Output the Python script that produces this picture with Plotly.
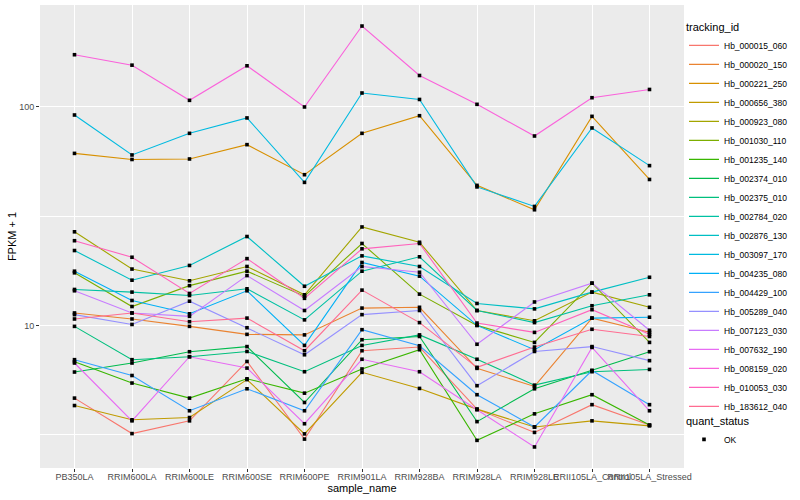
import math
import plotly.graph_objects as go

samples = ["PB350LA", "RRIM600LA", "RRIM600LE", "RRIM600SE", "RRIM600PE", "RRIM901LA",
           "RRIM928BA", "RRIM928LA", "RRIM928LE", "RRII105LA_Control", "RRII105LA_Stressed"]

tracking_ids = ["Hb_000015_060", "Hb_000020_150", "Hb_000221_250", "Hb_000656_380", "Hb_000923_080",
                "Hb_001030_110", "Hb_001235_140", "Hb_002374_010", "Hb_002375_010", "Hb_002784_020",
                "Hb_002876_130", "Hb_003097_170", "Hb_004235_080", "Hb_004429_100", "Hb_005289_040",
                "Hb_007123_030", "Hb_007632_190", "Hb_008159_020", "Hb_010053_030", "Hb_183612_040"]

# FPKM + 1 per sample, one list per gene
hb_000015_060 = [4.65, 3.2, 3.66, 6.84, 3.02, 7.66, 7.96, 4.14, 3.24, 4.34, 3.5]
hb_000020_150 = [11.4, 10.7, 9.9, 9.1, 9.05, 12.0, 12.1, 6.36, 5.26, 10.8, 9.3]
hb_000221_250 = [61.2, 57.4, 57.7, 67.1, 48.9, 75.6, 91.0, 43.7, 33.8, 90.4, 46.5]
hb_000656_380 = [4.3, 3.7, 3.79, 5.65, 3.19, 6.1, 5.15, 4.14, 3.43, 3.66, 3.47]
hb_000923_080 = [26.8, 18.1, 16.0, 18.6, 13.8, 28.2, 24.0, 11.7, 10.5, 14.2, 12.1]
hb_001030_110 = [17.4, 12.2, 15.2, 17.7, 13.6, 23.7, 13.9, 10.0, 8.36, 15.6, 8.36]
hb_001235_140 = [6.82, 5.45, 4.65, 5.7, 4.9, 6.32, 7.74, 2.98, 3.94, 4.82, 3.5]
hb_002374_010 = [6.12, 6.73, 7.58, 8.0, 4.44, 8.6, 8.9, 3.63, 5.13, 6.22, 7.58]
hb_002375_010 = [9.9, 6.97, 7.19, 7.6, 6.14, 8.1, 9.05, 7.0, 5.33, 6.14, 6.29]
hb_002784_020 = [14.6, 14.2, 13.7, 14.7, 10.6, 17.7, 20.6, 11.7, 10.3, 12.3, 13.8]
hb_002876_130 = [22.0, 16.1, 18.8, 25.5, 15.1, 20.8, 18.6, 12.6, 11.9, 14.2, 16.6]
hb_003097_170 = [91.7, 60.2, 75.6, 88.9, 45.1, 115.6, 108.0, 43.0, 35.0, 80.0, 53.8]
hb_004235_080 = [17.7, 13.0, 11.3, 14.4, 8.1, 19.4, 16.8, 10.0, 7.74, 10.8, 10.9]
hb_004429_100 = [6.97, 5.9, 4.07, 5.13, 4.07, 9.56, 8.07, 4.82, 3.43, 6.22, 4.34]
hb_005289_040 = [11.2, 10.1, 12.9, 9.76, 7.34, 11.2, 11.7, 5.3, 7.6, 8.0, 6.9]
hb_007123_030 = [14.4, 11.4, 11.0, 16.9, 11.7, 18.6, 17.5, 8.2, 12.8, 15.6, 9.5]
hb_007632_190 = [6.73, 3.66, 7.19, 6.38, 3.55, 7.0, 6.14, 4.11, 2.78, 7.93, 4.07]
hb_008159_020 = [173, 155, 107, 154, 99.8, 234, 139, 102.6, 73.5, 110, 120]
hb_010053_030 = [24.4, 20.5, 14.0, 20.2, 13.3, 22.4, 23.7, 10.25, 9.29, 11.8, 9.1]
hb_183612_040 = [10.7, 11.4, 10.4, 10.8, 7.66, 14.5, 10.3, 6.43, 7.96, 9.6, 8.9]

series = [hb_000015_060, hb_000020_150, hb_000221_250, hb_000656_380, hb_000923_080,
          hb_001030_110, hb_001235_140, hb_002374_010, hb_002375_010, hb_002784_020,
          hb_002876_130, hb_003097_170, hb_004235_080, hb_004429_100, hb_005289_040,
          hb_007123_030, hb_007632_190, hb_008159_020, hb_010053_030, hb_183612_040]

colors = ["#F8766D", "#EA8331", "#D89000", "#C09B00", "#A3A500", "#7CAE00", "#39B600", "#00BB4E",
          "#00BF7D", "#00C1A3", "#00BFC4", "#00BAE0", "#00B0F6", "#35A2FF", "#9590FF", "#C77CFF",
          "#E76BF3", "#FA62DB", "#FF62BC", "#FF6C91"]

y_ticks = [10, 100]
quant_status = "OK"

FONT = "Liberation Sans, Arial, sans-serif"

fig = go.Figure()
for name, vals, col in zip(tracking_ids, series, colors):
    fig.add_trace(go.Scatter(x=samples, y=vals, mode="lines", name=name,
                             line=dict(color=col, width=1.1), legend="legend"))

px, py = [], []
for vals in series:
    px.extend(samples)
    py.extend(vals)
fig.add_trace(go.Scatter(x=px, y=py, mode="markers", name=quant_status,
                         marker=dict(symbol="square", size=3.6, color="black"),
                         legend="legend2"))

all_vals = [v for s in series for v in s]
lo, hi = math.log10(min(all_vals)), math.log10(max(all_vals))
pad = (hi - lo) * 0.05

fig.update_layout(
    width=800, height=500,
    margin=dict(l=40, r=116, t=5, b=32),
    paper_bgcolor="white", plot_bgcolor="#EBEBEB",
    font=dict(family=FONT, size=9, color="black"),
    legend=dict(title=dict(text="tracking_id", font=dict(size=11)),
                x=1.0, xanchor="left", y=0.975, yanchor="top",
                font=dict(size=8.5), tracegroupgap=0, itemwidth=30,
                bgcolor="rgba(0,0,0,0)"),
    legend2=dict(title=dict(text="quant_status", font=dict(size=11)),
                 x=1.0, xanchor="left", y=0.124, yanchor="top",
                 font=dict(size=8.5), itemwidth=30, bgcolor="rgba(0,0,0,0)"),
)
fig.update_xaxes(
    type="category", categoryorder="array", categoryarray=samples,
    range=[-0.6, len(samples) - 0.4], automargin=False,
    showgrid=True, gridcolor="white", gridwidth=1.1, zeroline=False, showline=False,
    ticks="outside", ticklen=3, tickcolor="#333333", tickwidth=1, tickangle=0,
    ticklabelstandoff=-3,
    tickfont=dict(size=9, color="#4D4D4D"),
    title=dict(text="sample_name", font=dict(size=11, color="black"), standoff=0),
)
fig.update_yaxes(
    type="log", range=[lo - pad, hi + pad], automargin=False,
    tickmode="array", tickvals=y_ticks, ticktext=[str(t) for t in y_ticks],
    showgrid=True, gridcolor="white", gridwidth=1.1, zeroline=False, showline=False,
    ticks="outside", ticklen=3, tickcolor="#333333", tickwidth=1,
    tickfont=dict(size=9, color="#4D4D4D"),
    minor=dict(tickmode="array", tickvals=[10 ** 0.5, 10 ** 1.5, 10 ** 2.5],
               showgrid=True, gridcolor="white", gridwidth=0.55, ticks=""),
    title=dict(text="FPKM + 1", font=dict(size=11, color="black"), standoff=0),
)

fig.write_html("out.html", config={"displayModeBar": False},
               post_script="document.body.style.margin='0px';")
